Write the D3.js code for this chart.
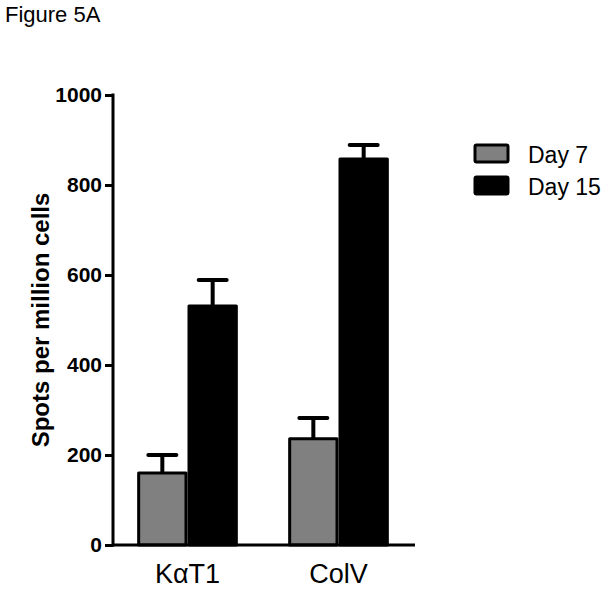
<!DOCTYPE html>
<html>
<head>
<meta charset="utf-8">
<script src="https://cdn.jsdelivr.net/npm/d3@7"></script>
<style>
  html, body { margin: 0; padding: 0; background: #fff; }
  svg { display: block; font-family: "Liberation Sans", Arial, sans-serif; }
</style>
</head>
<body>
<svg id="chart" width="610" height="592"></svg>
<script>
const categories = ["K\u03b1T1", "ColV"];
const seriesNames = ["Day 7", "Day 15"];
const seriesColors = ["#808080", "#000000"];
const day7Values = [160, 236];
const day7Errors = [40, 46];
const day15Values = [531, 858];
const day15Errors = [58, 31];
const yTicks = [0, 200, 400, 600, 800, 1000];

const seriesValues = [day7Values, day15Values];
const seriesErrors = [day7Errors, day15Errors];

const svg = d3.select("#chart");

const y = d3.scaleLinear().domain([0, 1000]).range([545, 95]);
const x0 = d3.scaleBand().domain(categories).range([113, 413])
  .paddingInner(1/3).paddingOuter(0.16);
const x1 = d3.scaleBand().domain(seriesNames).range([0, x0.bandwidth()]).padding(0);

// title
svg.append("text").attr("x", 5).attr("y", 22)
  .attr("font-size", 22).text("Figure 5A");

// bars
const data = [];
categories.forEach((c, i) => {
  seriesNames.forEach((s, j) => {
    data.push({cat: c, series: s, v: seriesValues[j][i], e: seriesErrors[j][i], color: seriesColors[j]});
  });
});

const g = svg.append("g");
data.forEach(d => {
  const cx = x0(d.cat) + x1(d.series) + x1.bandwidth() / 2;
  g.append("line").attr("x1", cx).attr("x2", cx)
    .attr("y1", y(d.v)).attr("y2", y(d.v + d.e))
    .attr("stroke", "#000").attr("stroke-width", 4);
  g.append("line").attr("x1", cx - 14).attr("x2", cx + 14)
    .attr("y1", y(d.v + d.e)).attr("y2", y(d.v + d.e))
    .attr("stroke", "#000").attr("stroke-width", 4).attr("stroke-linecap", "round");
});
data.forEach(d => {
  g.append("rect")
    .attr("x", x0(d.cat) + x1(d.series) + 1.5)
    .attr("y", y(d.v))
    .attr("width", x1.bandwidth() - 3)
    .attr("height", y(0) - y(d.v))
    .attr("fill", d.color)
    .attr("stroke", "#000").attr("stroke-width", 3)
    .attr("stroke-linejoin", "round");
});

// y axis
const yAxis = d3.axisLeft(y).tickValues(yTicks).tickSize(8).tickPadding(3).tickFormat(d3.format("d"));
const ya = svg.append("g").attr("transform", "translate(113,0)").call(yAxis);
ya.select(".domain").remove();
ya.append("line").attr("x1", 0).attr("x2", 0).attr("y1", y(1000) - 1.5).attr("y2", y(0) + 1.5)
  .attr("stroke", "#000").attr("stroke-width", 3);
ya.selectAll(".tick line").attr("stroke", "#000").attr("stroke-width", 3);
ya.selectAll(".tick text").attr("font-size", 21).attr("font-weight", "bold")
  .attr("fill", "#000").attr("font-family", "Liberation Sans, Arial, sans-serif");

// x axis
const xAxis = d3.axisBottom(x0).tickSize(0).tickPadding(19);
const xa = svg.append("g").attr("transform", "translate(0,545)").call(xAxis);
xa.select(".domain").remove();
xa.append("line").attr("x1", 113).attr("x2", 415).attr("y1", 0).attr("y2", 0)
  .attr("stroke", "#000").attr("stroke-width", 3);
xa.selectAll(".tick text").attr("font-size", 27).attr("fill", "#000")
  .attr("font-family", "Liberation Sans, Arial, sans-serif");

// y axis title
svg.append("text")
  .attr("transform", "translate(49,320) rotate(-90)")
  .attr("text-anchor", "middle")
  .attr("font-size", 24).attr("font-weight", "bold")
  .text("Spots per million cells");

// legend
const legend = svg.append("g");
seriesNames.forEach((s, i) => {
  const ly = 145 + i * 32;
  legend.append("rect").attr("x", 475).attr("y", ly).attr("width", 33).attr("height", 17)
    .attr("fill", seriesColors[i]).attr("stroke", "#000").attr("stroke-width", 3)
    .attr("rx", 1.5);
  legend.append("text").attr("x", 528).attr("y", ly + 18)
    .attr("font-size", 23).text(s);
});
</script>
</body>
</html>
